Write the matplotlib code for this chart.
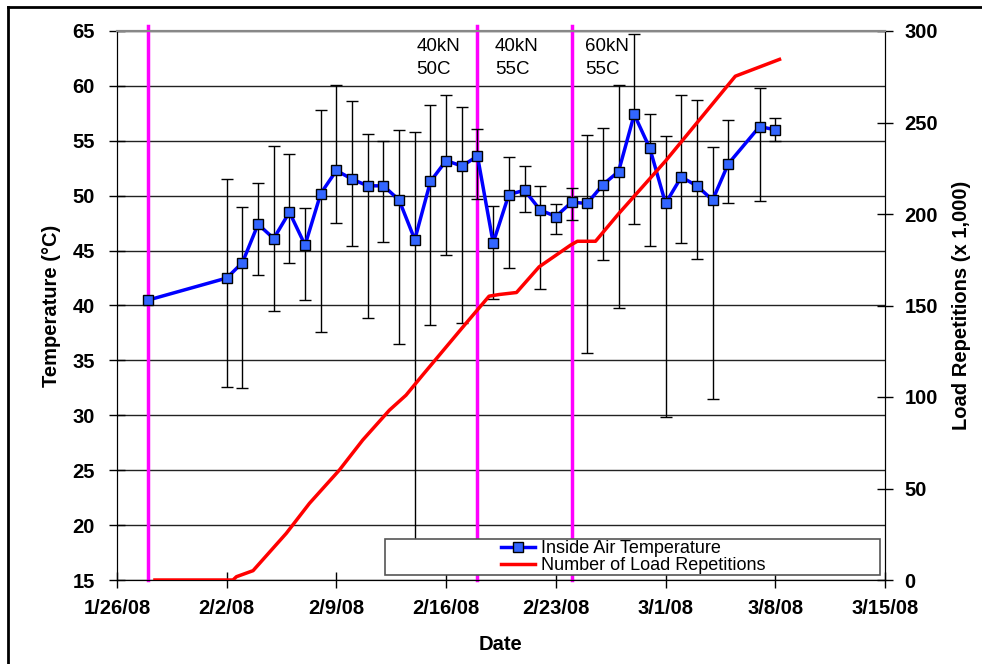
import numpy as np
import matplotlib
matplotlib.use('Agg')
import matplotlib.pyplot as plt
import matplotlib.dates as mdates
from matplotlib.lines import Line2D
from matplotlib.patches import Rectangle

plt.rcParams['font.family'] = ['Liberation Sans', 'DejaVu Sans']

# temperatura interna (media, max, min)
temp_dates = ['2008-01-28', '2008-02-02', '2008-02-03', '2008-02-04', '2008-02-05',
              '2008-02-06', '2008-02-07', '2008-02-08', '2008-02-09', '2008-02-10',
              '2008-02-11', '2008-02-12', '2008-02-13', '2008-02-14', '2008-02-15',
              '2008-02-16', '2008-02-17', '2008-02-18', '2008-02-19', '2008-02-20',
              '2008-02-21', '2008-02-22', '2008-02-23', '2008-02-24', '2008-02-25',
              '2008-02-26', '2008-02-27', '2008-02-28', '2008-02-29', '2008-03-01',
              '2008-03-02', '2008-03-03', '2008-03-04', '2008-03-05', '2008-03-07',
              '2008-03-08']
temp_mean = [40.5, 42.5, 43.9, 47.4, 46.1, 48.5, 45.5, 50.2, 52.3, 51.5, 50.9, 50.9,
             49.6, 46.0, 51.3, 53.2, 52.7, 53.6, 45.7, 50.1, 50.5, 48.7, 48.1, 49.4,
             49.3, 51.0, 52.2, 57.4, 54.3, 49.3, 51.7, 50.9, 49.6, 52.9, 56.3, 56.0]
temp_max = [np.nan, 51.5, 49.0, 51.2, 54.5, 53.8, 48.9, 57.8, 60.1, 58.6, 55.6, 55.0,
            56.0, 55.8, 58.3, 59.2, 58.1, 56.1, 49.1, 53.5, 52.7, 50.9, 49.2, 50.7,
            55.5, 56.2, 60.1, 64.7, 57.4, 55.4, 59.2, 58.7, 54.4, 56.9, 59.8, 57.1]
temp_min = [np.nan, 32.6, 32.5, 42.8, 39.5, 43.9, 40.5, 37.6, 47.5, 45.4, 38.9, 45.8,
            36.5, 17.0, 38.2, 44.6, 38.4, 49.7, 40.6, 43.4, 48.5, 41.5, 46.5, 47.8,
            35.7, 44.1, 39.8, 47.4, 45.4, 29.8, 45.7, 44.2, 31.5, 49.3, 49.5, 55.0]

# ripetizioni di carico (giorni dal 26/1/08, migliaia)
load_day = [2.42, 7.4, 7.62, 8.68, 10.8, 12.28, 14.19, 15.68, 17.38, 18.44, 19.5,
            22.26, 23.74, 24.38, 25.49, 26.93, 28.94, 29.37, 30.53, 32.02, 35.0,
            39.45, 42.27]
load_k = [0, 0, 1.8, 5.1, 25.5, 41.9, 60.1, 76.5, 92.8, 101, 112, 140.2, 155.1,
          156, 157.1, 171.1, 183, 185.1, 185.1, 200.3, 229, 275.3, 284.5]

phase_dates = ['2008-01-28', '2008-02-18', '2008-02-24']
phase_labels = ['40kN\n50C', '40kN\n55C', '60kN\n55C']
phase_label_day = [19.1, 24.1, 29.85]

base = mdates.date2num(np.datetime64('2008-01-26'))
tx = mdates.date2num(np.array(temp_dates, dtype='datetime64[D]'))
lx = base + np.array(load_day)
tm = np.array(temp_mean)
tmax = np.array(temp_max)
tmin = np.array(temp_min)

fig = plt.figure(figsize=(9.82, 6.64), dpi=100)
ax = fig.add_axes([117 / 982, 1 - 580 / 664, 768 / 982, 549 / 664])
ax2 = ax.twinx()

ax.set_xlim(base, base + 49)
ax.set_ylim(15, 65)
ax2.set_ylim(0, 300)
ax.set_xticks(base + np.arange(0, 50, 7))
ax.xaxis.set_major_formatter(mdates.DateFormatter('%-m/%-d/%y'))
ax.set_yticks(np.arange(15, 66, 5))
ax2.set_yticks(np.arange(0, 301, 50))

ax.yaxis.grid(True, color='#222222', lw=1.0)
ax.set_axisbelow(True)

for a in (ax, ax2):
    a.tick_params(direction='inout', length=12, width=1, labelsize=14.5)
    for lbl in a.get_xticklabels() + a.get_yticklabels():
        lbl.set_fontweight('bold')
ax.tick_params(axis='y', pad=10)
ax.tick_params(axis='x', pad=8)
ax2.tick_params(axis='y', pad=8)
for a in (ax, ax2):
    a.spines['top'].set_color('#888888')
    a.spines['top'].set_linewidth(1.5)

# linee di cambio fase
for d in phase_dates:
    ax.axvline(mdates.date2num(np.datetime64(d)), color='#FF00FF', lw=2.5,
               ymax=1.01, clip_on=False, zorder=2)
for lab, d in zip(phase_labels, phase_label_day):
    ax.text(base + d, 64.35, lab, fontsize=13.5, va='top', ha='left',
            linespacing=1.45)

ax.errorbar(tx[1:], tm[1:], yerr=[tm[1:] - tmin[1:], tmax[1:] - tm[1:]],
            fmt='none', ecolor='black', elinewidth=1.0, capsize=4, capthick=1.0,
            zorder=3)
l1, = ax.plot(tx, tm, color='#0000FF', lw=2.5, marker='s', markersize=6.5,
              markerfacecolor='#3366FF', markeredgecolor='black',
              markeredgewidth=1.0, zorder=4, label='Inside Air Temperature')
l2, = ax2.plot(lx, load_k, color='#FF0000', lw=2.5, zorder=3,
               label='Number of Load Repetitions')

ax.set_xlabel('Date', fontsize=14.5, fontweight='bold', labelpad=12)
ax.set_ylabel('Temperature (°C)', fontsize=14.5, fontweight='bold', labelpad=8)
ax2.set_ylabel('Load Repetitions (x 1,000)', fontsize=14.5, fontweight='bold',
               labelpad=10)

# riquadro legenda
ax2.add_patch(Rectangle((0.349, 0.009), 0.645, 0.066, transform=ax2.transAxes,
                        facecolor='white', edgecolor='#555555', lw=1.2,
                        zorder=10))
leg = ax2.legend(handles=[l1, l2], loc='center', bbox_to_anchor=(0.672, 0.042),
                 frameon=False, fontsize=13, labelspacing=0.0,
                 handlelength=1.9, handletextpad=0.3, borderpad=0)
leg.set_zorder(11)

# bordo figura
fig.add_artist(Line2D([8 / 982, 8 / 982], [0, 1 - 7 / 664], color='black', lw=2))
fig.add_artist(Line2D([8 / 982, 1], [1 - 7 / 664, 1 - 7 / 664], color='black', lw=2))

fig.savefig('out.png', dpi=100)
